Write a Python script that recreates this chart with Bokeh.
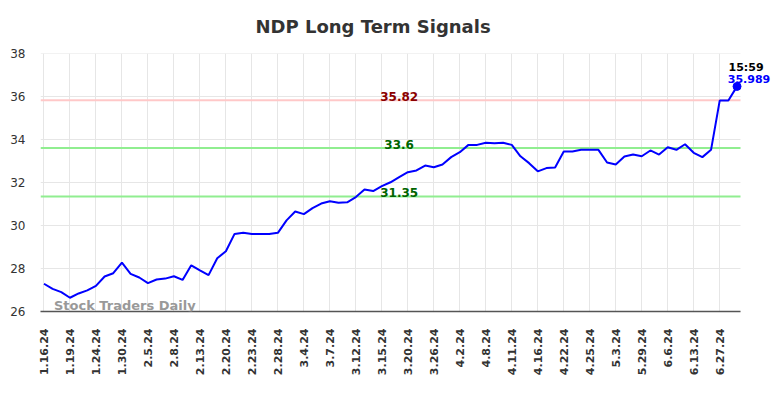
import math
from bokeh.plotting import figure
from bokeh.models import FixedTicker, Label, Range1d
from bokeh.embed import file_html
from bokeh.resources import INLINE

# ---- data -------------------------------------------------------------
tick_labels = ["1.16.24", "1.19.24", "1.24.24", "1.30.24", "2.5.24", "2.8.24",
               "2.13.24", "2.20.24", "2.23.24", "2.28.24", "3.4.24", "3.7.24",
               "3.12.24", "3.15.24", "3.20.24", "3.26.24", "4.2.24", "4.8.24",
               "4.11.24", "4.16.24", "4.22.24", "4.25.24", "5.3.24", "5.29.24",
               "6.6.24", "6.13.24", "6.27.24"]
tick_step = 3

prices = [27.29, 27.05, 26.90, 26.64, 26.84, 26.98, 27.19, 27.63, 27.78, 28.27,
          27.75, 27.58, 27.32, 27.49, 27.53, 27.64, 27.47, 28.15, 27.91, 27.69,
          28.48, 28.80, 29.61, 29.66, 29.61, 29.60, 29.60, 29.66, 30.24, 30.65,
          30.53, 30.81, 31.02, 31.13, 31.06, 31.08, 31.32, 31.67, 31.60, 31.83,
          32.01, 32.25, 32.48, 32.56, 32.79, 32.71, 32.84, 33.18, 33.41, 33.75,
          33.75, 33.85, 33.83, 33.85, 33.75, 33.22, 32.90, 32.52, 32.67, 32.70,
          33.44, 33.44, 33.52, 33.52, 33.52, 32.93, 32.84, 33.21, 33.30, 33.22,
          33.49, 33.30, 33.64, 33.52, 33.78, 33.38, 33.18, 33.52, 35.81, 35.81,
          36.47]

resistance = 35.82
mid_level = 33.6
support = 31.35
last_time = "15:59"
last_label = "35.989"

y_ticks = [26, 28, 30, 32, 34, 36, 38]

# ---- figure -----------------------------------------------------------
xs = list(range(len(prices)))
tick_pos = [i * tick_step for i in range(len(tick_labels))]

pad = 0.4
x_lo, x_hi = -pad, len(prices) - 1 + pad      # data area of the chart
W, H = 776, 390
left, right_edge, top, bottom = 40, 0, 53, 79
frame_w = W - left - right_edge
data_px = 700.0
x_end = x_lo + (x_hi - x_lo) * frame_w / data_px   # extra room for the last-value label

p = figure(width=W, height=H, output_backend="svg", toolbar_location=None,
           x_range=Range1d(x_lo, x_end), y_range=Range1d(26, 38),
           min_border_left=left, min_border_right=right_edge, min_border_top=top,
           min_border_bottom=bottom)

p.title.text = "NDP Long Term Signals"
p.title.text_font = "DejaVu Sans"
p.title.text_font_size = "18px"
p.title.text_font_style = "bold"
p.title.text_color = "#333333"
p.title.align = "left"
p.title.offset = 215
p.title.vertical_align = "top"
p.title.standoff = 30

p.outline_line_color = None
p.background_fill_color = "white"
p.border_fill_color = "white"

# axes
p.xaxis.ticker = FixedTicker(ticks=tick_pos)
p.xaxis.major_label_overrides = {pos: lab for pos, lab in zip(tick_pos, tick_labels)}
p.xaxis.major_label_orientation = math.pi / 2
p.xaxis.major_label_text_font = "DejaVu Sans"
p.xaxis.major_label_text_font_size = "11px"
p.xaxis.major_label_text_font_style = "bold"
p.xaxis.major_label_text_color = "#333333"
p.xaxis.major_tick_out = 0
p.xaxis.major_tick_in = 0
p.xaxis.minor_tick_line_color = None
p.xaxis.major_label_standoff = 17
p.xaxis.axis_line_color = "#555555"
p.xaxis.axis_line_width = 1.5
p.xaxis.bounds = (x_lo, x_hi)

p.yaxis.ticker = FixedTicker(ticks=y_ticks)
p.yaxis.major_label_text_font = "DejaVu Sans"
p.yaxis.major_label_text_font_size = "12px"
p.yaxis.major_label_text_color = "#333333"
p.yaxis.axis_line_color = None
p.yaxis.major_tick_line_color = None
p.yaxis.major_tick_out = 0
p.yaxis.major_tick_in = 0
p.yaxis.minor_tick_line_color = None
p.yaxis.major_label_standoff = 15

p.xgrid.grid_line_color = "#e6e6e6"
p.ygrid.visible = False

# horizontal grid lines limited to the data area
p.segment(x0=[x_lo] * len(y_ticks), x1=[x_hi] * len(y_ticks), y0=y_ticks, y1=y_ticks,
          line_color="#e6e6e6", line_width=1)

# level lines
levels = [resistance, mid_level, support]
level_line_colors = ["#ffc8c8", "#90ee90", "#90ee90"]
level_text_colors = ["#8b0000", "#006400", "#006400"]
p.segment(x0=[x_lo] * 3, x1=[x_hi] * 3, y0=levels, y1=levels,
          line_color=level_line_colors, line_width=2)

# price line
p.line(xs, prices, line_color="#0000ff", line_width=2)
p.scatter([xs[-1]], [prices[-1]], size=8, color="#0000ff")

label_x = 41
for val, col in zip(levels, level_text_colors):
    p.add_layout(Label(x=label_x, y=val, text=f"{val:g}", text_font="DejaVu Sans",
                       text_font_size="12px", text_font_style="bold", text_color=col,
                       text_align="center", text_baseline="alphabetic", y_offset=4))

p.add_layout(Label(x=xs[-1], y=prices[-1], text=last_label, text_font="DejaVu Sans",
                   text_font_size="11px", text_font_style="bold", text_color="#0000ff",
                   text_align="center", text_baseline="alphabetic",
                   x_offset=12, y_offset=7))
p.add_layout(Label(x=xs[-1], y=prices[-1], text=last_time, text_font="DejaVu Sans",
                   text_font_size="11px", text_font_style="bold", text_color="#000000",
                   text_align="center", text_baseline="alphabetic",
                   x_offset=9, y_offset=19))

p.add_layout(Label(x=1.15, y=26.27, text="Stock Traders Daily", text_font="DejaVu Sans",
                   text_font_size="13px", text_font_style="bold", text_color="#999999",
                   text_align="left", text_baseline="alphabetic"))

open("out.html", "w").write(file_html(p, INLINE))
